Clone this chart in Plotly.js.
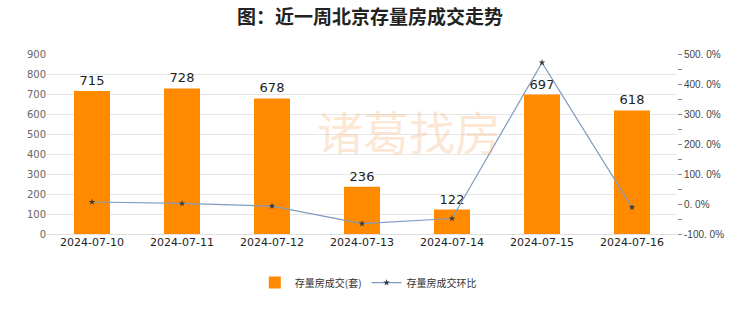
<!DOCTYPE html>
<html>
<head>
<meta charset="utf-8">
<script src="https://cdn.plot.ly/plotly-3.0.1.min.js"></script>
<style>html,body{margin:0;padding:0;background:#fff}#chart{width:740px;height:312px}</style>
</head>
<body>
<div id="chart"></div>
<script>
const dates = ["2024-07-10","2024-07-11","2024-07-12","2024-07-13","2024-07-14","2024-07-15","2024-07-16"];
const deals = [715, 728, 678, 236, 122, 697, 618];
const momPct = [6.7, 1.8, -6.9, -65.2, -48.3, 471.3, -11.3];
const rightTickVals = [-100, 0, 100, 200, 300, 400, 500];
const rightTickText = ["-100. 0%", "0. 0%", "100. 0%", "200. 0%", "300. 0%", "400. 0%", "500. 0%"];

const barTrace = {
  type: "bar", x: dates, y: deals, name: "存量房成交(套)",
  marker: {color: "#ff8a00"},
  text: deals.map(String), textposition: "outside", cliponaxis: false,
  textfont: {size: 13, color: "#222", family: "DejaVu Sans"},
  hoverinfo: "x+y"
};
const lineTrace = {
  type: "scatter", mode: "lines+markers", x: dates, y: momPct, yaxis: "y2",
  name: "存量房成交环比",
  line: {color: "#7f9cc0", width: 1.2},
  marker: {symbol: "star", size: 5, color: "#3a3a3a"}
};

const layout = {
  width: 740, height: 312,
  margin: {l: 47, r: 63, t: 54, b: 78},
  paper_bgcolor: "#fff", plot_bgcolor: "#fff",
  font: {family: "DejaVu Sans, Noto Sans CJK SC", color: "#555"},
  title: {text: "<b>图：近一周北京存量房成交走势</b>", x: 0.5, xanchor: "center", y: 0.945, yanchor: "middle",
    font: {family: "Noto Sans CJK SC", size: 19, color: "#222"}},
  bargap: 0.6,
  showlegend: true,
  legend: {orientation: "h", x: 0.51, xanchor: "center", y: -0.27, yanchor: "middle",
    font: {family: "Noto Sans CJK SC", size: 10, color: "#333"}, itemwidth: 30},
  xaxis: {type: "category", showgrid: false, zeroline: false, showline: false, ticks: "",
    tickfont: {size: 11, color: "#222", family: "DejaVu Sans"}},
  yaxis: {range: [0, 900], dtick: 100, showgrid: true, gridcolor: "#e6e6e6", gridwidth: 1,
    zeroline: true, zerolinecolor: "#e0e0e0", showline: false, ticks: "",
    tickfont: {size: 10, color: "#666"}},
  yaxis2: {overlaying: "y", side: "right", range: [-100, 500], tickvals: rightTickVals, ticktext: rightTickText,
    showgrid: false, zeroline: false, showline: false, ticks: "outside", ticklen: 4, tickcolor: "#888",
    minor: {dtick: 50, ticks: "outside", ticklen: 4, tickcolor: "#888", showgrid: false},
    tickfont: {size: 10, color: "#444", family: "Liberation Sans"}},
  annotations: [
    {text: "诸葛找房", xref: "paper", yref: "paper", x: 0.575, y: 0.58, showarrow: false,
     font: {family: "Noto Sans CJK SC", size: 46, color: "rgba(245,180,120,0.33)"}}
  ]
};

Plotly.newPlot("chart", [barTrace, lineTrace], layout, {displayModeBar: false, staticPlot: true});
</script>
</body>
</html>
